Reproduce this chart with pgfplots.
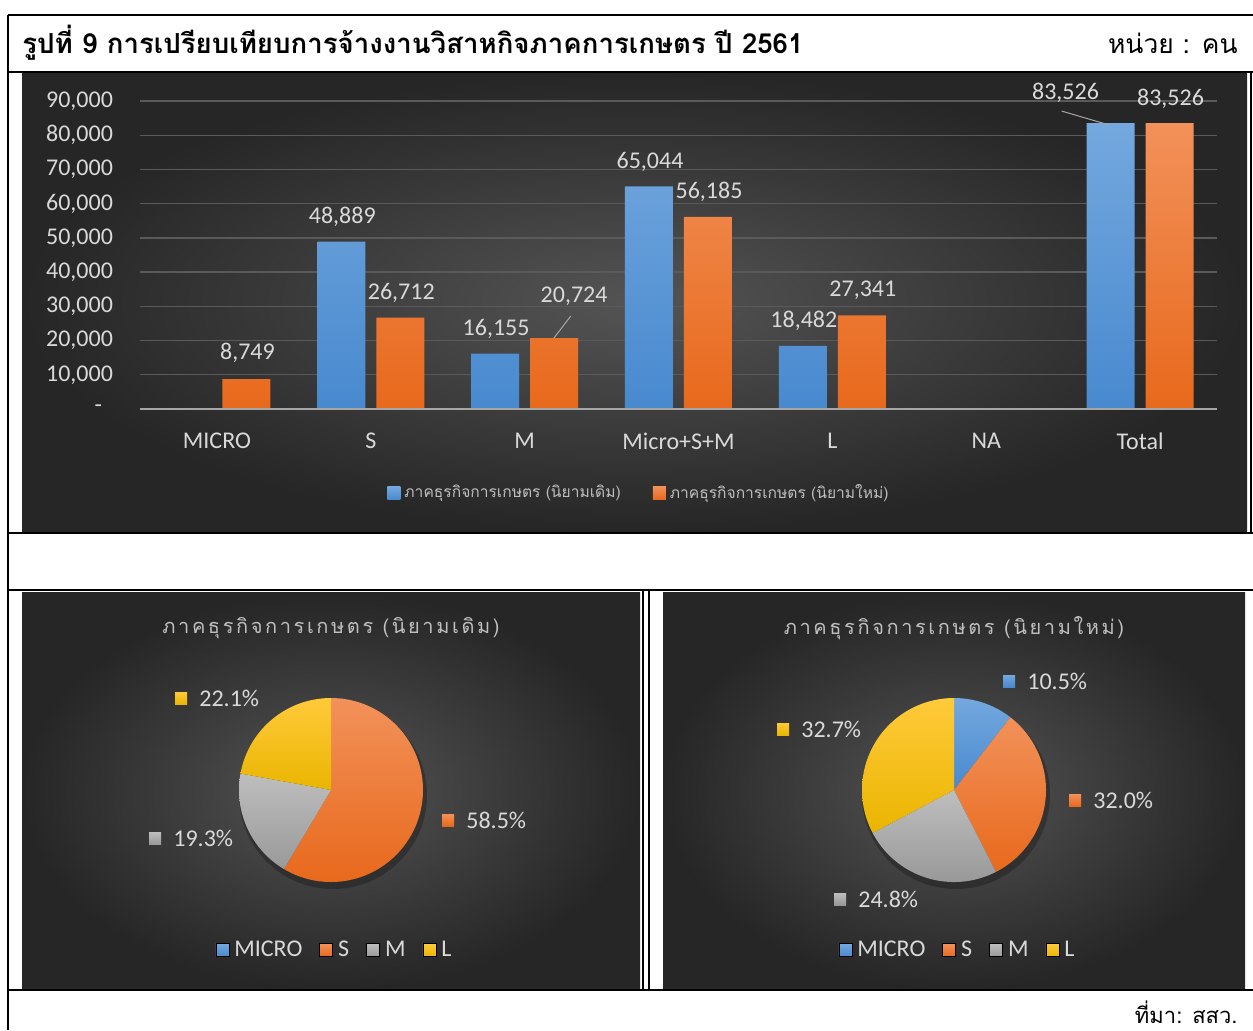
\documentclass[border=0pt]{standalone}
\usepackage{fontspec}
\setmainfont{Carlito}
\newfontfamily\thai[Script=Thai]{Loma}
\newfontfamily\thaisp[Script=Thai,LetterSpace=13]{Loma}
\usepackage{pgfplots}
\usepackage{pgfplotstable}
\pgfplotsset{compat=1.18}

\definecolor{panelout}{HTML}{262626}
\definecolor{panelin}{HTML}{545454}
\definecolor{gridc}{HTML}{5A5A5A}
\definecolor{axisc}{HTML}{A6A6A6}
\definecolor{lbl}{HTML}{D9D9D9}
\definecolor{ttl}{HTML}{BFBFBF}
\definecolor{bluT}{HTML}{74A8DE}
\definecolor{bluB}{HTML}{4889CF}
\definecolor{oraT}{HTML}{F2915A}
\definecolor{oraB}{HTML}{E8691C}
\definecolor{gryT}{HTML}{BEBEBE}
\definecolor{gryB}{HTML}{999999}
\definecolor{yelT}{HTML}{FFCA3A}
\definecolor{yelB}{HTML}{EAB500}

% employment (persons), label offsets in px
\pgfplotstableread{
cat val dx dy
1 48889 1 25
2 16155 1 25
3 65044 1 25
4 18482 1 25
6 83526 -45 30
}\oldtab
\pgfplotstableread{
cat val dx dy
0 8749 1 26
1 26712 1 25
2 20724 20 42
3 56185 1 25
4 27341 1 25
6 83526 1 24
}\newtab

% pie data: S, M, L (old) ; MICRO, S, M, L (new)
\def\oS{48889}\def\oM{16155}\def\oL{18482}
\def\nMi{8749}\def\nS{26712}\def\nM{20724}\def\nL{27341}
\def\tot{83526}

\newcommand\slice[3]{%
  \addplot[forget plot, draw=none, top color=#1T, bottom color=#1B, samples=90,
    domain={90-360*((#3)/\tot)}:{90-360*((#2)/\tot)}] ({cos(x)},{sin(x)}) -- (0,0) -- cycle;}
\newcommand\pielbl[4]{%
  \fill[top color=#1T, bottom color=#1B] (#2-6,-#3-6) rectangle (#2+6,-#3+6);
  \node[anchor=west, inner sep=0, text=lbl] at (#2+18,-#3) {#4};}

\pgfplotsset{
  sq legend/.style={legend image code/.code={\path[##1] (0pt,-3.25pt) rectangle (6.5pt,3.25pt);}},
  pie/.style={scale only axis, width=92pt, height=92pt, anchor=origin,
    xmin=-1, xmax=1, ymin=-1, ymax=1, hide axis, clip=false, sq legend,
    legend columns=-1,
    legend style={at={(0.527,-0.37)}, anchor=center, draw=none, fill=none,
      text=lbl, font=\fontsize{12}{14}\selectfont, inner sep=0pt,
      nodes={inner xsep=2.5pt, inner ysep=1.5pt},
      /tikz/every even column/.append style={column sep=6pt}}},
}

\begin{document}
\begin{tikzpicture}[x=0.5pt, y=0.5pt, font=\fontsize{12}{14}\selectfont]
\path[use as bounding box, fill=white] (0,0) rectangle (1253,-1030);

% panels
\shade[inner color=panelin, outer color=panelout] (22,-73) rectangle (1247,-532);
\shade[inner color=panelin, outer color=panelout] (22,-592) rectangle (640,-990);
\shade[inner color=panelin, outer color=panelout] (663,-592) rectangle (1245,-990);

% table rules
\draw[line width=1pt] (8,-15) -- (1253,-15);
\draw[line width=1pt] (8,-15) -- (8,-1030);
\draw[line width=1pt] (8,-72) -- (1253,-72);
\draw[line width=1pt] (8,-533) -- (1253,-533);
\draw[line width=1pt] (8,-590) -- (1253,-590);
\draw[line width=1pt] (8,-990) -- (1253,-990);
\draw[line width=0.6pt] (643,-590) -- (643,-990);
\draw[line width=0.6pt] (649,-590) -- (649,-990);
\draw[line width=0.6pt] (1251,-72) -- (1251,-533);

\node[anchor=base west, inner sep=0, font=\thai\bfseries\fontsize{13.8}{16}\selectfont]
  at (22,-53) {รูปที่ 9 การเปรียบเทียบการจ้างงานวิสาหกิจภาคการเกษตร ปี 2561};
\node[anchor=base east, inner sep=0, font=\thai\fontsize{13.2}{16}\selectfont]
  at (1238,-53) {หน่วย : คน};
\node[anchor=base east, inner sep=0, font=\thai\fontsize{11}{13}\selectfont]
  at (1238,-1023) {ที่มา: สสว.};

% ---------------- bar chart ----------------
\begin{axis}[at={(108.46pt,-204.5pt)}, anchor=origin, scale only axis,
  width=538.5pt, height=154pt,
  xmin=-0.5, xmax=6.5, ymin=0, ymax=90000,
  ybar=5.5pt, bar width=24pt,
  xtick={0,...,6}, xticklabels={MICRO,S,M,Micro+S+M,L,NA,Total},
  ytick={0,10000,...,90000},
  yticklabels={{-\rule{5.5pt}{0pt}},{10,000},{20,000},{30,000},{40,000},{50,000},{60,000},{70,000},{80,000},{90,000}},
  scaled y ticks=false,
  major tick length=0, axis line style={draw=none},
  ymajorgrids, grid style={gridc, line width=0.7pt},
  ticklabel style={text=lbl, font=\fontsize{12}{14}\selectfont},
  yticklabel style={xshift=-10pt},
  xticklabel style={yshift=-8.5pt},
  visualization depends on={\thisrow{dx}\as\dx},
  visualization depends on={\thisrow{dy}\as\dy},
  nodes near coords={\pgfmathprintnumber[fixed, precision=0, 1000 sep={,}, assume math mode=true]{\pgfplotspointmeta}},
  every node near coord/.append style={anchor=center, inner sep=0pt, text=lbl,
    font=\fontsize{12}{14}\selectfont, xshift=\dx*0.5pt, yshift=\dy*0.5pt},
  sq legend, legend columns=2,
  legend style={at={(0.4643,-0.2727)}, anchor=center, draw=none, fill=none,
    text=ttl, font=\thai\fontsize{7.8}{10}\selectfont,
    /tikz/every even column/.append style={column sep=14pt}},
]
\addplot[draw=none, top color=bluT, bottom color=bluB] table[x=cat, y=val] {\oldtab};
\addlegendentry{ภาคธุรกิจการเกษตร (นิยามเดิม)}
\addplot[draw=none, top color=oraT, bottom color=oraB] table[x=cat, y=val] {\newtab};
\addlegendentry{ภาคธุรกิจการเกษตร (นิยามใหม่)}
\draw[axisc, line width=1.3pt] (rel axis cs:0,0) -- (rel axis cs:1,0);
\draw[axisc, line width=0.5pt] (axis cs:2.19,20724) -- (axis cs:2.30,27177);
\draw[axisc, line width=0.5pt] (axis cs:5.80,82988) -- (axis cs:5.49,87079);
\end{axis}

% ---------------- pie: old definition ----------------
\node[text=ttl, font=\thaisp\fontsize{10}{12}\selectfont] at (331,-628) {ภาคธุรกิจการเกษตร (นิยามเดิม)};
\fill[black, opacity=0.25] (333,-795) circle[radius=94];
\begin{axis}[pie, at={(165.5pt,-395pt)}]
\addlegendimage{top color=bluT, bottom color=bluB}\addlegendentry{MICRO}
\addlegendimage{top color=oraT, bottom color=oraB}\addlegendentry{S}
\addlegendimage{top color=gryT, bottom color=gryB}\addlegendentry{M}
\addlegendimage{top color=yelT, bottom color=yelB}\addlegendentry{L}
\slice{ora}{0}{\oS}
\slice{gry}{\oS}{\oS+\oM}
\slice{yel}{\oS+\oM}{\oS+\oM+\oL}
\end{axis}
\pielbl{yel}{181}{698}{22.1\%}
\pielbl{ora}{448}{820}{58.5\%}
\pielbl{gry}{155}{838}{19.3\%}

% ---------------- pie: new definition ----------------
\node[text=ttl, font=\thaisp\fontsize{10}{12}\selectfont] at (954,-628) {ภาคธุรกิจการเกษตร (นิยามใหม่)};
\fill[black, opacity=0.25] (956,-795) circle[radius=94];
\begin{axis}[pie, at={(477pt,-395pt)}]
\addlegendimage{top color=bluT, bottom color=bluB}\addlegendentry{MICRO}
\addlegendimage{top color=oraT, bottom color=oraB}\addlegendentry{S}
\addlegendimage{top color=gryT, bottom color=gryB}\addlegendentry{M}
\addlegendimage{top color=yelT, bottom color=yelB}\addlegendentry{L}
\slice{blu}{0}{\nMi}
\slice{ora}{\nMi}{\nMi+\nS}
\slice{gry}{\nMi+\nS}{\nMi+\nS+\nM}
\slice{yel}{\nMi+\nS+\nM}{\nMi+\nS+\nM+\nL}
\end{axis}
\pielbl{blu}{1009}{681}{10.5\%}
\pielbl{yel}{783}{729}{32.7\%}
\pielbl{ora}{1075}{800}{32.0\%}
\pielbl{gry}{840}{899}{24.8\%}
\end{tikzpicture}
\end{document}
